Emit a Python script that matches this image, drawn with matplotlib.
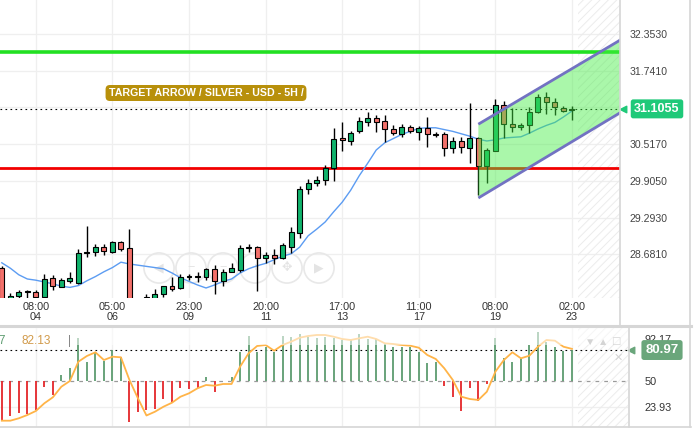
import numpy as np
import matplotlib
matplotlib.use("Agg")
import matplotlib.pyplot as plt
from matplotlib.lines import Line2D
from matplotlib.patches import Polygon
import matplotlib.transforms as mtransforms

plt.rcParams['font.family'] = ['Liberation Sans', 'DejaVu Sans']
plt.rcParams['hatch.linewidth'] = 0.7
plt.rcParams['hatch.color'] = '#ececec'

# === DATA (5H candles, silver / usd) ===
opens = [28.45, 27.90, 27.99, 28.05, 28.05, 27.97, 28.29, 28.14, 28.24, 28.20,
         28.70, 28.72, 28.80, 28.72, 28.89, 28.79, 27.90, 27.96, 27.96, 28.02,
         28.15, 28.12, 28.30, 28.30, 28.30, 28.44, 28.24, 28.39, 28.42, 28.79,
         28.80, 28.62, 28.67, 28.62, 28.80, 29.04, 29.77, 29.87, 29.92, 30.12,
         30.62, 30.57, 30.74, 30.89, 30.95, 30.90, 30.77, 30.69, 30.80, 30.72,
         30.79, 30.69, 30.69, 30.45, 30.57, 30.45, 30.62, 30.15, 30.40, 31.17,
         30.85, 30.80, 30.84, 31.05, 31.30, 31.22, 31.12, 31.09]
highs = [28.48, 28.04, 28.09, 28.09, 28.08, 28.35, 28.34, 28.28, 28.39, 28.77,
         29.15, 28.85, 28.85, 28.90, 28.90, 29.10, 27.96, 28.02, 28.10, 28.16,
         28.30, 28.35, 28.35, 28.39, 28.45, 28.50, 28.44, 28.53, 28.84, 28.85,
         28.82, 28.72, 28.77, 28.87, 29.14, 29.82, 29.94, 29.99, 30.17, 30.79,
         30.89, 30.74, 30.97, 31.05, 31.00, 31.00, 30.84, 30.85, 30.84, 30.82,
         30.97, 30.72, 30.72, 30.63, 30.63, 31.20, 30.64, 30.45, 31.27, 31.24,
         31.12, 30.87, 31.14, 31.35, 31.39, 31.29, 31.15, 31.15]
lows = [27.60, 27.85, 27.96, 27.95, 27.95, 27.95, 28.09, 28.13, 28.20, 28.19,
        28.64, 28.65, 28.67, 28.70, 28.74, 27.60, 27.85, 27.93, 27.94, 27.97,
        28.07, 28.10, 28.25, 28.22, 28.25, 28.02, 28.15, 28.38, 28.39, 28.72,
        28.07, 28.54, 28.52, 28.60, 28.70, 28.95, 29.69, 29.82, 29.84, 29.90,
        30.40, 30.50, 30.70, 30.82, 30.72, 30.55, 30.67, 30.64, 30.70, 30.59,
        30.47, 30.64, 30.32, 30.37, 30.37, 30.20, 29.67, 29.87, 30.40, 30.62,
        30.72, 30.75, 30.70, 31.04, 31.02, 31.00, 31.05, 30.92]
closes = [27.75, 27.99, 28.05, 28.06, 27.97, 28.27, 28.15, 28.25, 28.29, 28.70,
          28.71, 28.80, 28.74, 28.89, 28.77, 27.70, 27.93, 27.97, 28.02, 28.15,
          28.10, 28.30, 28.31, 28.31, 28.44, 28.24, 28.39, 28.45, 28.79, 28.80,
          28.62, 28.67, 28.62, 28.84, 29.05, 29.77, 29.87, 29.92, 30.12, 30.60,
          30.59, 30.70, 30.90, 30.95, 30.89, 30.77, 30.70, 30.80, 30.74, 30.79,
          30.69, 30.67, 30.45, 30.57, 30.47, 30.62, 30.15, 30.42, 31.17, 30.85,
          30.80, 30.84, 31.05, 31.30, 31.22, 31.14, 31.07, 31.1055]
ma_line = [28.54, 28.45, 28.34, 28.27, 28.25, 28.22, 28.19, 28.15, 28.13, 28.16,
           28.24, 28.31, 28.39, 28.46, 28.55, 28.52, 28.50, 28.48, 28.46, 28.44,
           28.37, 28.29, 28.23, 28.17, 28.12, 28.17, 28.23, 28.27, 28.37, 28.44,
           28.49, 28.53, 28.59, 28.65, 28.69, 28.80, 28.99, 29.10, 29.22, 29.39,
           29.55, 29.75, 29.99, 30.20, 30.42, 30.54, 30.61, 30.68, 30.73, 30.78,
           30.79, 30.79, 30.76, 30.73, 30.69, 30.65, 30.60, 30.57, 30.59, 30.62,
           30.63, 30.64, 30.70, 30.77, 30.83, 30.88, 30.97, 31.07]

# lower indicator panel
osc_hist = [10, 15, 17.7, 17, 21, 44.3, 36, 56, 62.7, 93,
            69.3, 79.3, 70, 81, 74.3, 9.3, 18.7, 21, 22, 32,
            28.7, 42.7, 42, 42.7, 54.3, 39.3, 50.5, 54.3, 79.3, 95,
            79.3, 84.3, 79.3, 95.3, 94, 96.7, 94.3, 93.3, 94.3, 93.3,
            91, 92, 96.7, 92, 92, 87.7, 84.3, 84.3, 84.3, 78.7,
            67.7, 68.7, 45, 34.3, 20, 42.7, 30, 47, 92.7, 72.7,
            69.3, 72.7, 86, 98.7, 89.3, 84.3, 80, 80.97]
osc_line = [10.3, 10.3, 12.7, 16, 20, 27.7, 33.7, 44.3, 50, 69.3,
            75, 78.7, 71, 74.3, 73.7, 51, 32.7, 15.5, 19.3, 24.3,
            28.3, 34.3, 37.7, 42.7, 46, 45.3, 47, 47, 64.3, 77.7,
            85, 86, 80.3, 86, 89.3, 93.3, 95, 96, 96, 94.3,
            92, 91, 92.7, 94.3, 92, 87.7, 87, 86, 85.3, 83.3,
            76, 72, 62.7, 51, 34.3, 32, 31, 39.3, 59.3, 71,
            78.7, 72.7, 75.3, 84.3, 91, 90.3, 84.3, 82.13]

last_price = 31.1055
target_level = 32.06
stop_level = 30.125
chan_x = [56, 73]
chan_top = [30.85, 32.28]
chan_bot = [29.62, 31.07]

price_ticks = [28.681, 29.293, 29.905, 30.517, 31.741, 32.353]
tick_idx = [4, 13, 22, 31, 40, 49, 58, 67]
tick_lbl = ["08:00\n04", "05:00\n06", "23:00\n09", "20:00\n11",
            "17:00\n13", "11:00\n17", "08:00\n19", "02:00\n23"]

opens, highs, lows, closes = map(np.array, (opens, highs, lows, closes))
idx = np.arange(len(closes))

# === FIGURE ===
W, H = 699, 428
fig = plt.figure(figsize=(W / 100, H / 100), dpi=100)
ax = fig.add_axes([0, 1 - 298 / H, 620 / W, 298 / H])
ax2 = fig.add_axes([0, 1 / H, 628 / W, 99 / H])

step = 8.51
x0 = -0.21
ax.set_xlim(x0, x0 + 620 / step)
ax.set_ylim(27.953, 32.92)
ax2.set_xlim(x0, x0 + 628 / step)
ax2.set_ylim(4, 103)

for a in (ax, ax2):
    for s in a.spines.values():
        s.set_visible(False)

grid_c = '#efefef'
for t in tick_idx:
    ax.axvline(t, color=grid_c, lw=0.9, zorder=0)
    ax2.axvline(t, color=grid_c, lw=0.9, zorder=0)
for p in price_ticks + [31.129]:
    ax.axhline(p, color=grid_c, lw=0.9, zorder=0)
ax2.axhline(23.93, color=grid_c, lw=0.9, zorder=0)

# hatched future zone
ax.axvspan(67.7, 80, facecolor='none', hatch='////', lw=0, zorder=0)
ax2.axvspan(67.7, 80, facecolor='none', hatch='////', lw=0, zorder=0)

# nav buttons (faint)
nav_px = [159, 191, 223, 255, 287, 319]
nav_sym = ['◀', '−', '−', '+', '✥', '▶']
for px, sym in zip(nav_px, nav_sym):
    ax.scatter(px / 620, 1 - 268 / 298, s=470, facecolor='none', edgecolor='#e8e8e8',
               lw=1.2, transform=ax.transAxes, zorder=1, clip_on=False)
    ax.text(px / 620, 1 - 268 / 298, sym, transform=ax.transAxes, ha='center',
            va='center', fontsize=9, color='#e4e4e4', zorder=1)

# levels
ax.axhline(target_level, color='#22e022', lw=2.6, zorder=2)
ax.axhline(stop_level, color='#f20000', lw=2.0, zorder=2)
ax.axhline(last_price, color='black', lw=0.8, ls=(0, (1.5, 3)), zorder=2)

# moving average
ax.plot(idx, ma_line, color='#5c9cf2', lw=1.0, zorder=3)

# candles
up = closes >= opens
body_lo = np.minimum(opens, closes)
body_h = np.maximum(np.abs(closes - opens), 0.018)
cols = np.where(up, '#10b36c', '#f2706a')
ax.vlines(idx, lows, highs, color='black', lw=1.0, zorder=4)
ax.bar(idx, body_h, bottom=body_lo, width=0.58, color=cols, edgecolor='black',
       linewidth=0.8, zorder=5)

# channel
poly = Polygon([(chan_x[0], chan_top[0]), (chan_x[1], chan_top[1]),
                (chan_x[1], chan_bot[1]), (chan_x[0], chan_bot[0])],
               closed=True, facecolor='#44ee44', alpha=0.45, edgecolor='none', zorder=6)
ax.add_patch(poly)
ax.plot(chan_x, chan_top, color='#7272c2', lw=2, zorder=7, solid_capstyle='butt')
ax.plot(chan_x, chan_bot, color='#7272c2', lw=2, zorder=7, solid_capstyle='butt')

# title tag
ax.text(206 / 620, 1 - 93 / 298, "TARGET ARROW / SILVER - USD - 5H /", transform=ax.transAxes,
        ha='center', va='center', fontsize=7.7, fontweight='bold', color='white', zorder=8,
        bbox=dict(boxstyle='round,pad=0.28,rounding_size=0.4', fc='#b8900b', ec='none'))

# axes ticks
ax.yaxis.tick_right()
ax.set_yticks(price_ticks)
ax.set_yticklabels([f"{p:.4f}" for p in price_ticks])
ax.tick_params(axis='y', length=0, pad=7, labelsize=7.6, labelcolor='#444444')
ax.text(1.0 + 7 / 620, 32.965, "32.9650", transform=mtransforms.blended_transform_factory(ax.transAxes, ax.transData),
        ha='left', va='center', fontsize=7.6, color='#444444', clip_on=False)
ax.set_xticks(tick_idx)
ax.set_xticklabels(tick_lbl)
ax.tick_params(axis='x', length=0, pad=3, labelsize=7.8, labelcolor='#333333')
for lbl in ax.get_xticklabels():
    lbl.set_linespacing(0.95)

bt = mtransforms.blended_transform_factory(ax.transAxes, ax.transData)
ax.text(657 / 620, last_price, "31.1055", transform=bt, ha='center', va='center',
        fontsize=9, fontweight='bold', color='white', zorder=9, clip_on=False,
        bbox=dict(boxstyle='round,pad=0.28,rounding_size=0.2', fc='#1fc979', ec='none'))
ax.scatter([1.0 + 3 / 620], [last_price], marker='<', s=22, color='#1fc979',
           transform=bt, clip_on=False, zorder=9)

# === LOWER PANEL ===
hist = np.array(osc_hist)
bar_cols = np.where(hist >= 50, '#5d9c70', '#e4262a')
ax2.vlines(idx, 50, hist, colors=bar_cols, lw=1.3, zorder=3)
ax2.axhline(50, color='#9a9a9a', lw=0.9, ls=(0, (3, 4)), zorder=2)
ax2.axhline(80.97, color='black', lw=0.8, ls=(0, (1.5, 3)), zorder=2)
ax2.plot(idx, osc_line, color='#ffb448', lw=1.3, zorder=4)
ax2.axhspan(86, 103, color='white', alpha=0.55, lw=0, zorder=5)

ax2.yaxis.tick_right()
ax2.set_yticks([23.93, 50, 92.17])
ax2.set_yticklabels(["23.93", "50", "92.17"])
ax2.tick_params(axis='y', length=0, pad=12, labelsize=7.8, labelcolor='#333333')
ax2.set_xticks([])

bt2 = mtransforms.blended_transform_factory(ax2.transAxes, ax2.transData)
ax2.text(662 / 628, 80.97, "80.97", transform=bt2, ha='center', va='center',
         fontsize=9.5, fontweight='bold', color='white', zorder=9, clip_on=False,
         bbox=dict(boxstyle='round,pad=0.3,rounding_size=0.2', fc='#6aa67b', ec='none'))
ax2.scatter([1.0 + 3 / 628], [80.97], marker='<', s=22, color='#6aa67b',
            transform=bt2, clip_on=False, zorder=9)

ax2.text(6 / 628, 90, "80.97", transform=bt2, ha='right', va='center', fontsize=8.5,
         color='#5d9c70', zorder=8, clip_on=False)
ax2.text(22 / 628, 90, "82.13", transform=bt2, ha='left', va='center', fontsize=8.5,
         color='#d19a4a', zorder=8)
ax2.text(68 / 628, 90, "|", transform=bt2, ha='left', va='center', fontsize=8.5,
         color='#888888', zorder=8)
for px, sym in zip([590, 603, 616], ['▼', '▲', '☐']):
    ax2.text(px / 628, 89, sym, transform=bt2, ha='center', va='center', fontsize=7.5,
             color='#d4d4d4', zorder=8)
ax2.text(618 / 628, 73, '✕', transform=bt2, ha='center', va='center', fontsize=8,
         color='#d4d4d4', zorder=8)

# frame lines
def fline(x0p, y0p, x1p, y1p, c='#d6d6d6', lw=1.2):
    fig.add_artist(Line2D([x0p / W, x1p / W], [1 - y0p / H, 1 - y1p / H],
                          color=c, lw=lw, transform=fig.transFigure))

fline(0, 326, 691, 326, lw=2.2)
fline(620, 0, 620, 326)
fline(690, 0, 690, 427)
fline(629, 327, 629, 427)
fline(0, 427, 691, 427)

fig.savefig("out.png", dpi=100)
